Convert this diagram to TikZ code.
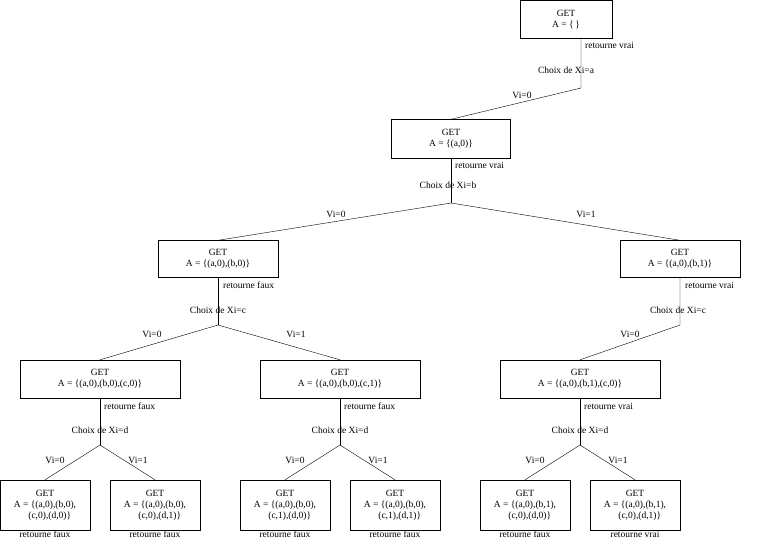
\documentclass[tikz,border=0pt]{standalone}
\usepackage{fontspec}
\setmainfont{Liberation Serif}
\usetikzlibrary{positioning}
\newcommand{\getset}[1]{GET\\ A = \{#1\}}

\begin{document}
\begin{tikzpicture}[x=1pt,y=-1pt,font=\fontsize{9.5}{11}\selectfont,
  get node/.style={draw,inner sep=1pt,align=center},
  leaf node/.style={draw,inner sep=1pt,align=center,minimum width=90pt,minimum height=50pt},
  note/.style={inner sep=1pt}]
  \useasboundingbox (0,0) rectangle (762,539);

  % top of the tree
  \node[get node,minimum width=92pt,minimum height=38pt] (r) at (566,19) {\getset{\,}};
  \coordinate (ra) at (581,38);
  \coordinate (fa) at (581,88);
  \node[get node,minimum width=119pt,minimum height=39pt] (a0) at (451,139) {\getset{(a,0)}};
  \coordinate (fb) at (451,203);
  \node[get node,minimum width=120pt,minimum height=37pt] (b0) at (218,259) {\getset{(a,0),(b,0)}};
  \node[get node,minimum width=120pt,minimum height=37pt] (b1) at (680,259) {\getset{(a,0),(b,1)}};
  \coordinate (fc) at (218,325);
  \coordinate (gc) at (680,325);
  \node[get node,minimum width=160pt,minimum height=38pt] (c0) at (100,379) {\getset{(a,0),(b,0),(c,0)}};
  \node[get node,minimum width=160pt,minimum height=38pt] (c1) at (340,379) {\getset{(a,0),(b,0),(c,1)}};
  \node[get node,minimum width=160pt,minimum height=38pt] (c2) at (580,379) {\getset{(a,0),(b,1),(c,0)}};
  \foreach \n/\x in {c0/100,c1/340,c2/580}
    \coordinate (f\n) at (\x,445);

  % leaves
  \node[leaf node] (l1) at (45,505) {GET\\ A = \{(a,0),(b,0),\\ \quad(c,0),(d,0)\}};
  \node[leaf node] (l2) at (155,505) {GET\\ A = \{(a,0),(b,0),\\ \quad(c,0),(d,1)\}};
  \node[leaf node] (l3) at (285,505) {GET\\ A = \{(a,0),(b,0),\\ \quad(c,1),(d,0)\}};
  \node[leaf node] (l4) at (395,505) {GET\\ A = \{(a,0),(b,0),\\ \quad(c,1),(d,1)\}};
  \node[leaf node] (l5) at (525,505) {GET\\ A = \{(a,0),(b,1),\\ \quad(c,0),(d,0)\}};
  \node[leaf node] (l6) at (635,505) {GET\\ A = \{(a,0),(b,1),\\ \quad(c,0),(d,1)\}};

  % branches
  \draw (ra) -- (fa) -- (a0.north);
  \draw (a0.south) -- (fb);
  \draw (b0.north) -- (fb) -- (b1.north);
  \draw (b0.south) -- (fc);
  \draw (c0.north) -- (fc) -- (c1.north);
  \draw (b1.south) -- (gc) -- (c2.north);
  \draw (c0.south) -- (fc0);
  \draw (c1.south) -- (fc1);
  \draw (c2.south) -- (fc2);
  \draw (l1.north) -- (fc0) -- (l2.north);
  \draw (l3.north) -- (fc1) -- (l4.north);
  \draw (l5.north) -- (fc2) -- (l6.north);

  % labels
  \node[note,anchor=west] (t1) at (584,45) {retourne vrai};
  \node[note] (x1) at (566,70) {Choix de Xi=a};
  \node[note] (v1) at (522,95) {Vi=0};
  \node[note,anchor=west] (t2) at (454,165) {retourne vrai};
  \node[note] (x2) at (448,185) {Choix de Xi=b};
  \node[note] (v2) at (336,214) {Vi=0};
  \node[note] (v3) at (586,214) {Vi=1};
  \node[note,anchor=west] (t3) at (222,285) {retourne faux};
  \node[note] (x3) at (218,310) {Choix de Xi=c};
  \node[note] (v4) at (152,334) {Vi=0};
  \node[note] (v5) at (296,334) {Vi=1};
  \node[note,anchor=west] (t4) at (684,285) {retourne vrai};
  \node[note] (x4) at (678,310) {Choix de Xi=c};
  \node[note] (v6) at (630,334) {Vi=0};
  \foreach \n/\x/\r in {a/100/faux,b/340/faux,c/580/vrai} {
    \node[note,anchor=west] (t\n) at (\x+3,406) {retourne \r};
    \node[note] (x\n) at (\x,430) {Choix de Xi=d};
    \node[note] (p\n) at (\x-45,460) {Vi=0};
    \node[note] (q\n) at (\x+38,460) {Vi=1};
  }
  \foreach \n/\x/\r in {1/45/faux,2/155/faux,3/285/faux,4/395/faux,5/525/faux,6/635/vrai}
    \node[note] (e\n) at (\x,534) {retourne \r};
\end{tikzpicture}
\end{document}
